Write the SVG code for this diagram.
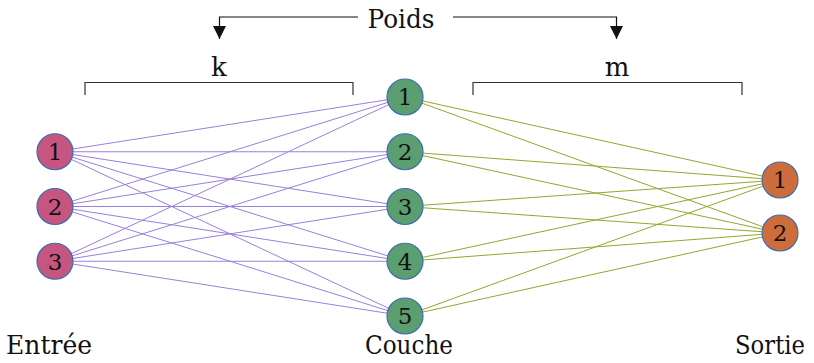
<svg xmlns="http://www.w3.org/2000/svg" width="814" height="363" viewBox="0 0 814 363">
<style>
.lbl{font-size:26px;fill:#111;text-anchor:middle}
.num{font-size:23px;fill:#111;text-anchor:middle}
.in{fill:#c6557f;stroke:#3d6db3;stroke-width:1.2}
.hid{fill:#5b9e6f;stroke:#3d6db3;stroke-width:1.2}
.out{fill:#cd6d3c;stroke:#3d6db3;stroke-width:1.2}
.a{stroke:#9a80da;stroke-width:1}
.b{stroke:#92a72e;stroke-width:1}
.br{fill:none;stroke:#333;stroke-width:1.2}
</style>
<defs>
<marker id="ah" viewBox="0 0 10 10" refX="10" refY="5" markerWidth="13" markerHeight="13" markerUnits="userSpaceOnUse" orient="auto">
<path d="M0,0 L10,5 L0,10 z" fill="#111"/>
</marker>
</defs>
<g id="connectors">
<g class="a">
<line x1="55" y1="151.75" x2="405" y2="97"/>
<line x1="55" y1="151.75" x2="405" y2="151.75"/>
<line x1="55" y1="151.75" x2="405" y2="206.5"/>
<line x1="55" y1="151.75" x2="405" y2="261.25"/>
<line x1="55" y1="151.75" x2="405" y2="316"/>
<line x1="55" y1="206.5" x2="405" y2="97"/>
<line x1="55" y1="206.5" x2="405" y2="151.75"/>
<line x1="55" y1="206.5" x2="405" y2="206.5"/>
<line x1="55" y1="206.5" x2="405" y2="261.25"/>
<line x1="55" y1="206.5" x2="405" y2="316"/>
<line x1="55" y1="261.25" x2="405" y2="97"/>
<line x1="55" y1="261.25" x2="405" y2="151.75"/>
<line x1="55" y1="261.25" x2="405" y2="206.5"/>
<line x1="55" y1="261.25" x2="405" y2="261.25"/>
<line x1="55" y1="261.25" x2="405" y2="316"/>
</g>
<g class="b">
<line x1="405" y1="97" x2="780" y2="180"/>
<line x1="405" y1="97" x2="780" y2="233"/>
<line x1="405" y1="151.75" x2="780" y2="180"/>
<line x1="405" y1="151.75" x2="780" y2="233"/>
<line x1="405" y1="206.5" x2="780" y2="180"/>
<line x1="405" y1="206.5" x2="780" y2="233"/>
<line x1="405" y1="261.25" x2="780" y2="180"/>
<line x1="405" y1="261.25" x2="780" y2="233"/>
<line x1="405" y1="316" x2="780" y2="180"/>
<line x1="405" y1="316" x2="780" y2="233"/>
</g>
<path class="br" d="M85,95 V82.5 H353 V95"/>
<path class="br" d="M473,95 V82.5 H742 V95"/>
<path fill="none" stroke="#111" stroke-width="1.2" d="M358,17 H219.5 V39" marker-end="url(#ah)"/>
<path fill="none" stroke="#111" stroke-width="1.2" d="M453,17 H616.5 V39" marker-end="url(#ah)"/>
</g>
<g id="labels" font-family="DejaVu Serif, Liberation Serif, serif">
<text class="lbl" x="401" y="28" textLength="67" lengthAdjust="spacingAndGlyphs">Poids</text>
<text class="lbl" x="219" y="76">k</text>
<text class="lbl" x="617" y="76">m</text>
<text class="lbl" x="49" y="354" textLength="86" lengthAdjust="spacingAndGlyphs">Entrée</text>
<text class="lbl" x="409" y="354" textLength="88" lengthAdjust="spacingAndGlyphs">Couche</text>
<text class="lbl" x="770" y="354" textLength="70" lengthAdjust="spacingAndGlyphs">Sortie</text>
</g>
<g id="nodes" font-family="DejaVu Serif, Liberation Serif, serif">
<g id="in1"><circle class="in" cx="55" cy="151.75" r="18"/><text class="num" x="55" y="160">1</text></g>
<g id="in2"><circle class="in" cx="55" cy="206.5" r="18"/><text class="num" x="55" y="214.7">2</text></g>
<g id="in3"><circle class="in" cx="55" cy="261.25" r="18"/><text class="num" x="55" y="269.5">3</text></g>
<g id="h1"><circle class="hid" cx="405" cy="97" r="18"/><text class="num" x="405" y="105.2">1</text></g>
<g id="h2"><circle class="hid" cx="405" cy="151.75" r="18"/><text class="num" x="405" y="160">2</text></g>
<g id="h3"><circle class="hid" cx="405" cy="206.5" r="18"/><text class="num" x="405" y="214.7">3</text></g>
<g id="h4"><circle class="hid" cx="405" cy="261.25" r="18"/><text class="num" x="405" y="269.5">4</text></g>
<g id="h5"><circle class="hid" cx="405" cy="316" r="18"/><text class="num" x="405" y="324.2">5</text></g>
<g id="o1"><circle class="out" cx="780" cy="180" r="18"/><text class="num" x="780" y="188.2">1</text></g>
<g id="o2"><circle class="out" cx="780" cy="233" r="18"/><text class="num" x="780" y="241.2">2</text></g>
</g>
</svg>
